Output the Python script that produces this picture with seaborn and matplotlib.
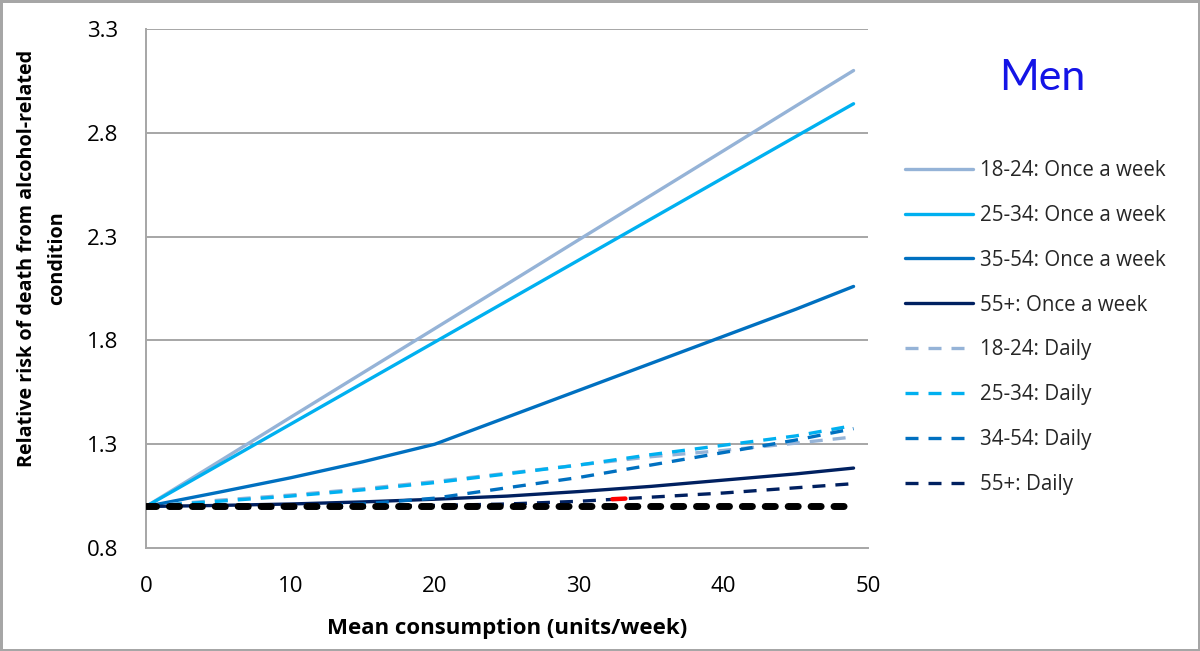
import matplotlib
matplotlib.use("Agg")
import matplotlib.pyplot as plt
import seaborn as sns
import pandas as pd

# ---- data ----
units = [0, 5, 10, 15, 20, 25, 30, 35, 40, 45, 49]

once_18_24 = [1.00, 1.214, 1.429, 1.643, 1.857, 2.071, 2.286, 2.50, 2.714, 2.929, 3.10]
once_25_34 = [1.00, 1.198, 1.396, 1.594, 1.792, 1.99, 2.188, 2.386, 2.584, 2.782, 2.94]
once_35_54 = [1.00, 1.068, 1.138, 1.215, 1.30, 1.43, 1.56, 1.69, 1.82, 1.95, 2.06]
once_55p = [1.00, 1.005, 1.012, 1.022, 1.035, 1.05, 1.072, 1.097, 1.127, 1.157, 1.185]

daily_18_24 = [1.00, 1.03, 1.055, 1.085, 1.12, 1.16, 1.20, 1.24, 1.27, 1.305, 1.335]
daily_25_34 = [1.00, 1.025, 1.05, 1.08, 1.115, 1.157, 1.20, 1.25, 1.295, 1.34, 1.39]
daily_34_54 = [1.00, 0.995, 1.00, 1.012, 1.04, 1.09, 1.14, 1.20, 1.26, 1.32, 1.375]
daily_55p = [1.00, 0.995, 0.995, 0.998, 1.005, 1.012, 1.025, 1.045, 1.065, 1.09, 1.11]

ref_x = [0, 49]
ref_y = [1.0, 1.0]

red_x = [32.3, 33.2]
red_y = [1.035, 1.038]

series_labels = [
    "18-24: Once a week", "25-34: Once a week", "35-54: Once a week", "55+: Once a week",
    "18-24: Daily", "25-34: Daily", "34-54: Daily", "55+: Daily",
]
series_values = [once_18_24, once_25_34, once_35_54, once_55p,
                 daily_18_24, daily_25_34, daily_34_54, daily_55p]
group_colors = ["#95B3D7", "#00B0F0", "#0070C0", "#002060"]

x_ticks = [0, 10, 20, 30, 40, 50]
y_ticks = [0.8, 1.3, 1.8, 2.3, 2.8, 3.3]

# ---- style ----
sns.set_theme(style="white")
plt.rcParams["font.family"] = ["Open Sans", "DejaVu Sans"]

fig = plt.figure(figsize=(12, 6.51), dpi=100)
fig.patch.set_facecolor("white")
fig.patch.set_edgecolor("#A6A6A6")
fig.patch.set_linewidth(2.5)

ax = fig.add_axes([146 / 1200, 1 - 548 / 651, (868 - 146) / 1200, (548 - 29) / 651])

grid_c = "#A6A6A6"
for yv in y_ticks[1:]:
    ax.axhline(yv, color=grid_c, lw=1.4, zorder=0)

solid_lw = 2.4
for i, (lab, vals) in enumerate(zip(series_labels, series_values)):
    col = group_colors[i % 4]
    ls = "-" if i < 4 else (0, (3.9, 3.0))
    df = pd.DataFrame({"units": units, "rr": vals})
    sns.lineplot(data=df, x="units", y="rr", ax=ax, color=col, lw=solid_lw,
                 linestyle=ls, label=lab, zorder=3)

# reference line at 1.0 (thick black dashed)
sns.lineplot(x=ref_x, y=ref_y, ax=ax, color="black", lw=5.0,
             linestyle=(0, (1.45, 1.85)), dash_capstyle="round", zorder=4,
             legend=False)
# small red highlight segment
sns.lineplot(x=red_x, y=red_y, ax=ax, color="#FF0000", lw=3.2, zorder=5, legend=False)

ax.set_xlim(0, 50)
ax.set_ylim(0.8, 3.3)
ax.set_xticks(x_ticks)
ax.set_yticks(y_ticks)
ax.set_yticklabels([f"{v:.1f}" for v in y_ticks])
ax.set_xticklabels([str(v) for v in x_ticks])

for s in ["top", "right"]:
    ax.spines[s].set_visible(False)
for s in ["left", "bottom"]:
    ax.spines[s].set_color(grid_c)
    ax.spines[s].set_linewidth(1.4)

ax.tick_params(axis="both", which="major", direction="out", length=6, width=1.4,
               color=grid_c, labelsize=16, labelcolor="black")
ax.tick_params(axis="y", pad=14)
ax.tick_params(axis="x", pad=14)

ax.set_xlabel("Mean consumption (units/week)", fontsize=16, fontweight="bold",
              labelpad=15, color="black")
ax.set_ylabel("")
fig.text(42 / 1200, 1 - 258 / 651,
         "Relative risk of death from alcohol-related\ncondition",
         rotation=90, ha="center", va="center", multialignment="center",
         fontsize=14.25, fontweight="bold", color="black", linespacing=1.65)

# title "Men"
fig.text(1042 / 1200, 1 - 78 / 651, "Men", color="#1414E6", fontsize=31,
         ha="center", va="center", family=["Lato", "DejaVu Sans"])

leg = ax.legend(loc="upper left", bbox_to_anchor=(905 / 1200, 1 - 160 / 651),
                bbox_transform=fig.transFigure, frameon=False, fontsize=14.8,
                handlelength=3.3, handletextpad=0.34, labelspacing=1.16,
                borderaxespad=0, borderpad=0)

fig.savefig("out.png", dpi=100)
